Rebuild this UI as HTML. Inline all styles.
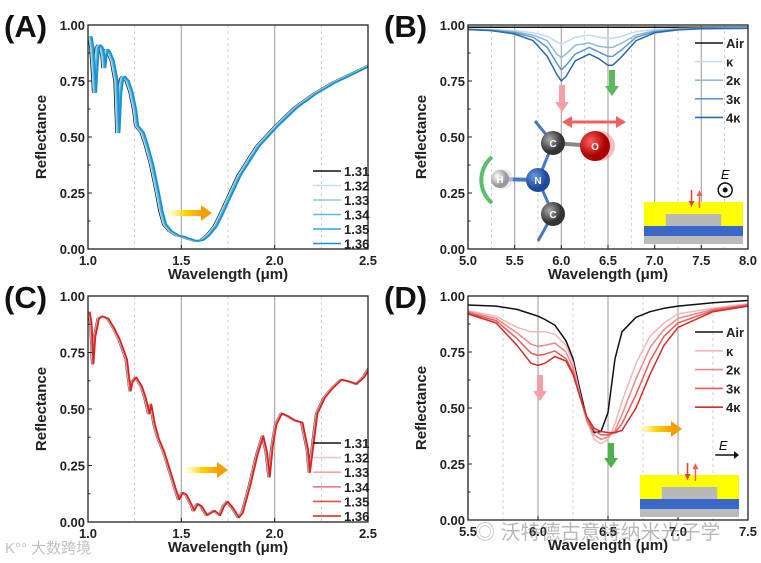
<!DOCTYPE html>
<html><head><meta charset="utf-8"><style>
html,body{margin:0;padding:0;background:#fff;}
svg{display:block;font-family:"Liberation Sans",Arial,sans-serif;}
.tk{font-size:13px;font-weight:bold;fill:#222;}
.ttl{font-size:15px;font-weight:bold;fill:#222;}
.pl{font-size:31px;font-weight:bold;fill:#111;}
.lg{font-size:13px;font-weight:bold;fill:#222;}
</style></head><body>
<svg id="fig" width="761" height="563" viewBox="0 0 761 563" xmlns="http://www.w3.org/2000/svg">
<defs>
<linearGradient id="ya" x1="0" x2="1"><stop offset="0" stop-color="#fff9a0" stop-opacity="0.3"/><stop offset="0.5" stop-color="#ffd400"/><stop offset="1" stop-color="#f5a000"/></linearGradient>
<radialGradient id="gC" cx="0.35" cy="0.35"><stop offset="0" stop-color="#aaa"/><stop offset="1" stop-color="#333"/></radialGradient>
<radialGradient id="gO" cx="0.35" cy="0.35"><stop offset="0" stop-color="#ff6060"/><stop offset="1" stop-color="#a00"/></radialGradient>
<radialGradient id="gN" cx="0.35" cy="0.35"><stop offset="0" stop-color="#6a9ae0"/><stop offset="1" stop-color="#1d4a9a"/></radialGradient>
<radialGradient id="gH" cx="0.35" cy="0.35"><stop offset="0" stop-color="#fff"/><stop offset="1" stop-color="#999"/></radialGradient>
</defs>
<g id="root"></g>
</svg>
<script>
// ---------- data ----------
const aX = [1.0,1.01,1.02,1.025,1.03,1.04,1.05,1.06,1.07,1.075,1.08,1.09,1.1,1.12,1.14,1.15,1.16,1.17,1.18,1.2,1.22,1.24,1.25,1.26,1.27,1.28,1.3,1.33,1.36,1.38,1.4,1.43,1.47,1.5,1.53,1.57,1.6,1.63,1.67,1.7,1.75,1.8,1.9,2.0,2.1,2.2,2.3,2.4,2.5];
const aY = [0.95,0.90,0.78,0.70,0.78,0.90,0.91,0.90,0.86,0.81,0.86,0.89,0.88,0.84,0.75,0.52,0.70,0.76,0.77,0.75,0.70,0.62,0.55,0.54,0.53,0.52,0.47,0.38,0.26,0.17,0.11,0.08,0.06,0.055,0.045,0.035,0.04,0.06,0.10,0.15,0.24,0.33,0.46,0.55,0.63,0.69,0.74,0.78,0.82];
const aShift = [0,0.004,0.008,0.012,0.016,0.02];
const aLabels = ["1.31","1.32","1.33","1.34","1.35","1.36"];

const cX = [1.0,1.01,1.02,1.03,1.05,1.07,1.1,1.13,1.16,1.2,1.22,1.23,1.25,1.28,1.3,1.32,1.33,1.35,1.37,1.4,1.43,1.46,1.48,1.5,1.52,1.55,1.56,1.58,1.6,1.63,1.65,1.67,1.7,1.72,1.74,1.77,1.8,1.82,1.86,1.9,1.93,1.95,1.965,1.98,2.0,2.03,2.06,2.1,2.14,2.17,2.18,2.2,2.22,2.26,2.3,2.35,2.4,2.43,2.47,2.5];
const cY = [0.93,0.88,0.70,0.82,0.90,0.91,0.90,0.86,0.81,0.72,0.58,0.62,0.64,0.60,0.55,0.48,0.52,0.43,0.37,0.31,0.23,0.15,0.10,0.13,0.12,0.07,0.05,0.08,0.07,0.03,0.04,0.05,0.03,0.07,0.09,0.06,0.02,0.04,0.16,0.30,0.38,0.31,0.20,0.33,0.43,0.48,0.47,0.45,0.44,0.32,0.22,0.35,0.48,0.55,0.59,0.63,0.62,0.61,0.64,0.68];
const cShift = [0,0.002,0.004,0.006,0.008,0.01];

const bX = [5.0,5.25,5.5,5.7,5.85,5.95,6.0,6.05,6.15,6.3,6.4,6.5,6.55,6.65,6.8,7.0,7.25,7.5,8.0];
const bAir = [0.99,0.99,0.99,0.99,0.99,0.99,0.99,0.99,0.99,0.99,0.99,0.99,0.99,0.99,0.99,0.99,0.99,0.99,0.99];
const bK1 = [0.982,0.98,0.975,0.965,0.95,0.925,0.915,0.925,0.945,0.955,0.945,0.94,0.94,0.95,0.97,0.98,0.984,0.986,0.988];
const bK2 = [0.981,0.978,0.97,0.955,0.93,0.87,0.855,0.87,0.91,0.92,0.905,0.90,0.90,0.92,0.955,0.975,0.982,0.985,0.987];
const bK3 = [0.98,0.976,0.965,0.945,0.90,0.83,0.80,0.82,0.87,0.90,0.88,0.86,0.86,0.89,0.945,0.97,0.98,0.984,0.986];
const bK4 = [0.98,0.975,0.96,0.93,0.86,0.78,0.75,0.77,0.84,0.87,0.85,0.82,0.82,0.86,0.93,0.965,0.978,0.983,0.985];

const dX = [5.5,5.7,5.85,5.95,6.0,6.05,6.12,6.2,6.25,6.3,6.35,6.4,6.45,6.5,6.55,6.6,6.7,6.8,6.9,7.0,7.25,7.5];
const dAir = [0.96,0.955,0.94,0.92,0.91,0.895,0.87,0.80,0.72,0.58,0.45,0.39,0.395,0.48,0.72,0.84,0.905,0.93,0.945,0.955,0.97,0.98];
const dK1 = [0.935,0.91,0.86,0.84,0.84,0.84,0.83,0.78,0.70,0.56,0.44,0.36,0.34,0.36,0.43,0.53,0.70,0.82,0.88,0.92,0.945,0.965];
const dK2 = [0.93,0.90,0.835,0.785,0.775,0.78,0.79,0.75,0.68,0.55,0.44,0.38,0.36,0.37,0.40,0.47,0.63,0.77,0.85,0.90,0.94,0.962];
const dK3 = [0.925,0.89,0.81,0.745,0.735,0.74,0.755,0.72,0.66,0.55,0.45,0.40,0.38,0.38,0.39,0.43,0.56,0.71,0.82,0.88,0.935,0.96];
const dK4 = [0.92,0.88,0.78,0.70,0.69,0.70,0.73,0.71,0.65,0.55,0.46,0.41,0.395,0.39,0.39,0.40,0.50,0.65,0.78,0.86,0.93,0.955];
const kLabels = ["Air","κ","2κ","3κ","4κ"];
const yTicks = ["0.00","0.25","0.50","0.75","1.00"];
const abTicks = ["1.0","1.5","2.0","2.5"];
const bTicks = ["5.0","5.5","6.0","6.5","7.0","7.5","8.0"];
const dTicks = ["5.5","6.0","6.5","7.0","7.5"];

// ---------- drawing ----------
const NS="http://www.w3.org/2000/svg";
const root=document.getElementById('root');
function mk(tag,attrs,parent,text){const e=document.createElementNS(NS,tag);for(const k in attrs)e.setAttribute(k,attrs[k]);if(text!==undefined)e.textContent=text;(parent||root).appendChild(e);return e;}

function panel(o){
  const g=mk('g',{});
  
  
  const sx=v=>o.x0+(v-o.xmin)/(o.xmax-o.xmin)*(o.x1-o.x0);
  const sy=v=>o.y0-(v)*(o.y0-o.y1);
  const step=o.minor;
  for(let v=o.xmin+step;v<o.xmax-1e-6;v+=step){
    const major=Math.abs(Math.round(v/o.major)*o.major-v)<1e-6;
    const ln=mk('line',{x1:sx(v),x2:sx(v),y1:o.y1,y2:o.y0,stroke:major?'#aaa':'#c8c8c8','stroke-width':major?1.2:0.8,'stroke-dasharray':major?'':'3,3'},g);
    
    
  }
  o.series.forEach((s,i)=>{
    let d='';
    s.x.forEach((xv,j)=>{d+=(j?'L':'M')+sx(xv).toFixed(1)+','+sy(s.y[j]).toFixed(1);});
    const p=mk('path',{d:d,fill:'none',stroke:s.c,'stroke-width':1.5,'stroke-linejoin':'round','clip-path':'url(#clip'+o.id+')'},g);
    
    
  });
  const fr=mk('rect',{x:o.x0,y:o.y1,width:o.x1-o.x0,height:o.y0-o.y1,fill:'none',stroke:'#222','stroke-width':1.3},g);
  
  
  yTicks.forEach((t,i)=>{
    const v=i*0.25;
    mk('line',{x1:o.x0,x2:o.x0+4,y1:sy(v),y2:sy(v),stroke:'#222'},g);
    if(i<4) mk('line',{x1:o.x0,x2:o.x0+2.5,y1:sy(v+0.125),y2:sy(v+0.125),stroke:'#222'},g);
    const tx=mk('text',{x:o.x0-3,y:sy(v)+5,'text-anchor':'end',class:'tk'},g,t);
    
    
  });
  o.xt.forEach((t,i)=>{
    const v=parseFloat(t);
    mk('line',{x1:sx(v),x2:sx(v),y1:o.y0,y2:o.y0-4,stroke:'#222'},g);
    const tx=mk('text',{x:sx(v),y:o.y0+16,'text-anchor':'middle',class:'tk'},g,t);
    
    
  });
  const xt=mk('text',{x:(o.x0+o.x1)/2,y:o.y0+30,'text-anchor':'middle',class:'ttl'},g,'Wavelength (μm)');
  
  
  const yt=mk('text',{x:0,y:0,'text-anchor':'middle',class:'ttl',transform:'translate('+(o.x0-42)+','+((o.y0+o.y1)/2)+') rotate(-90)'},g,'Reflectance');
  
  
  const pl=mk('text',{x:o.x0-84,y:o.y1+12,class:'pl'},g,'('+o.id+')');
  
  
  o.series.forEach((s,i)=>{
    const ly=o.ly+i*o.lstep;
    const lg=mk('g',{},g);
    
    
    mk('line',{x1:o.lx,x2:o.lx+28,y1:ly,y2:ly,stroke:s.c,'stroke-width':1.6},lg);
    mk('text',{x:o.lx+31,y:ly+5,class:'lg'},lg,s.label);
  });
  return g;
}
const defs=document.querySelector('defs');
function clip(id,x,y,w,h){const c=mk('clipPath',{id:'clip'+id},defs);mk('rect',{x:x,y:y,width:w,height:h},c);}
clip('A',88,25,280,224);clip('B',468,25,280,224);clip('C',88,296,280,226);clip('D',468,296,280,224);

const blues=['#111','#c0e2ee','#8fcde6','#5cbae0','#2ea6dc','#1a8fcf'];
const reds=['#111','#f3c4c4','#eea4a4','#e87c7c','#e44c4c','#d62222'];
panel({id:'A',x0:88,x1:368,y0:249,y1:25,xmin:1,xmax:2.5,minor:0.25,major:0.5,xt:abTicks,lx:313,ly:171,lstep:14.5,
  series:aShift.map((s,i)=>({name:'a-'+aLabels[i],label:aLabels[i],c:blues[i],x:aX.map(v=>v+s),y:aY}))});
panel({id:'C',x0:88,x1:368,y0:522,y1:296,xmin:1,xmax:2.5,minor:0.25,major:0.5,xt:abTicks,lx:313,ly:443,lstep:14.6,
  series:cShift.map((s,i)=>({name:'c-'+aLabels[i],label:aLabels[i],c:reds[i],x:cX.map(v=>v+s),y:cY}))});
const bSer=[bAir,bK1,bK2,bK3,bK4], bCol=['#111','#c4dcec','#8fbcdc','#5a99c8','#2a6aaa'];
panel({id:'B',x0:468,x1:748,y0:249,y1:25,xmin:5,xmax:8,minor:0.25,major:0.5,xt:bTicks,lx:695,ly:43,lstep:18.6,
  series:bSer.map((y,i)=>({name:'b-'+i,label:kLabels[i],c:bCol[i],x:bX,y:y}))});
const dSer=[dAir,dK1,dK2,dK3,dK4], dCol=['#111','#f4b8b8','#ee8888','#e65a5a','#d82a2a'];
panel({id:'D',x0:468,x1:748,y0:520,y1:296,xmin:5.5,xmax:7.5,minor:0.25,major:0.5,xt:dTicks,lx:695,ly:332,lstep:18.8,
  series:dSer.map((y,i)=>({name:'d-'+i,label:kLabels[i],c:dCol[i],x:dX,y:y}))});
</script>
<script>
(function(){
const NS="http://www.w3.org/2000/svg";const svg=document.getElementById('fig');
function m(tag,a,p,t){const e=document.createElementNS(NS,tag);for(const k in a)e.setAttribute(k,a[k]);if(t!==undefined)e.textContent=t;(p||svg).appendChild(e);return e;}
function arrowH(x,y,len,name){const g=m('g',{});
 m('rect',{x:x,y:y-3,width:len-10,height:6,fill:'url(#ya)'},g);m('polygon',{points:(x+len-11)+','+(y-8)+' '+(x+len)+','+y+' '+(x+len-11)+','+(y+8),fill:'#f5a000'},g);}
arrowH(168,213,44,'shift-arrow-a');arrowH(185,470,43,'shift-arrow-c');arrowH(640,429,42,'shift-arrow-d');
function arrowV(x,y,len,col,name){const g=m('g',{});
 m('rect',{x:x-3,y:y,width:6,height:len-9,fill:col},g);m('polygon',{points:(x-7)+','+(y+len-10)+' '+(x+7)+','+(y+len-10)+' '+x+','+(y+len),fill:col},g);}
arrowV(562,85,27,'#f5a0a8','down-arrow-b1');arrowV(612,70,26,'#5cb85c','down-arrow-b2');
arrowV(540,375,26,'#f5a0a8','down-arrow-d1');arrowV(611,443,25,'#4caf50','down-arrow-d2');
const mol=m('g',{});
m('line',{x1:535,y1:121,x2:553,y2:143,stroke:'#4a78c0','stroke-width':3},mol);
m('line',{x1:553,y1:143,x2:538,y2:180,stroke:'#4a78c0','stroke-width':3},mol);
m('line',{x1:538,y1:180,x2:553,y2:214,stroke:'#4a78c0','stroke-width':3},mol);
m('line',{x1:553,y1:214,x2:538,y2:241,stroke:'#4a78c0','stroke-width':3},mol);
m('line',{x1:500,y1:179,x2:538,y2:180,stroke:'#4a78c0','stroke-width':4},mol);
m('line',{x1:553,y1:143,x2:595,y2:146,stroke:'#888','stroke-width':4},mol);
m('path',{d:'M572,122 L616,122',stroke:'#f06060','stroke-width':3},mol);
m('polygon',{points:'572,116 562,122 572,128',fill:'#f06060'},mol);m('polygon',{points:'616,116 626,122 616,128',fill:'#f06060'},mol);
m('circle',{cx:600,cy:146,r:15,fill:'#f08080',opacity:0.5},mol);
m('circle',{cx:595,cy:146,r:15,fill:'url(#gO)'},mol);
m('circle',{cx:553,cy:143,r:12,fill:'url(#gC)'},mol);
m('circle',{cx:538,cy:180,r:12,fill:'url(#gN)'},mol);
m('circle',{cx:503,cy:179,r:10,fill:'#ddd',opacity:0.6},mol);
m('circle',{cx:500,cy:179,r:9,fill:'url(#gH)'},mol);
m('circle',{cx:553,cy:214,r:12,fill:'url(#gC)'},mol);
m('path',{d:'M492,157 A30,30 0 0 0 492,203',fill:'none',stroke:'#5cbf6a','stroke-width':4},mol);
[['C',553,147],['O',595,150],['N',538,184],['H',500,183],['C',553,218]].forEach(a=>m('text',{x:a[1],y:a[2],'text-anchor':'middle','font-size':10,'font-weight':'bold',fill:'#fff'},mol,a[0]));
function inset(x,y,w,name,eTxt,dot){const g=m('g',{});
 m('rect',{x:x,y:y,width:w,height:24,fill:'#ffff00'},g);
 m('rect',{x:x+w*0.22,y:y+12,width:w*0.56,height:12,fill:'#b8b8b8'},g);
 m('rect',{x:x,y:y+24,width:w,height:10,fill:'#3a68c8'},g);
 m('rect',{x:x,y:y+34,width:w,height:8,fill:'#bbb'},g);
 const ax=x+w*0.48, bx=x+w*0.56;
 m('line',{x1:ax,y1:y-12,x2:ax,y2:y,stroke:'#e04040','stroke-width':1.5},g);
 m('polygon',{points:(ax-3)+','+(y-1)+' '+(ax+3)+','+(y-1)+' '+ax+','+(y+5),fill:'#e04040'},g);
 m('line',{x1:bx,y1:y+6,x2:bx,y2:y-7,stroke:'#f06060','stroke-width':1.5},g);
 m('polygon',{points:(bx-3)+','+(y-6)+' '+(bx+3)+','+(y-6)+' '+bx+','+(y-12),fill:'#f06060'},g);
 if(dot){m('circle',{cx:x+w*0.82,cy:y-12,r:7,fill:'none',stroke:'#111','stroke-width':1.5},g);m('circle',{cx:x+w*0.82,cy:y-12,r:2.5,fill:'#111'},g);
  m('text',{x:x+w*0.82,y:y-23,'text-anchor':'middle','font-size':13,'font-style':'italic',fill:'#111'},g,eTxt);}
 else{m('line',{x1:x+w*0.76,y1:y-20,x2:x+w*0.96,y2:y-20,stroke:'#111','stroke-width':1.5},g);m('polygon',{points:(x+w*0.95)+','+(y-24)+' '+(x+w)+','+(y-20)+' '+(x+w*0.95)+','+(y-16),fill:'#111'},g);
  m('text',{x:x+w*0.84,y:y-25,'text-anchor':'middle','font-size':13,'font-style':'italic',fill:'#111'},g,eTxt);}
}
inset(644,202,99,'inset-structure-b','E',true);
inset(640,475,99,'inset-structure-d','E',false);
const w1=m('text',{x:475,y:539,'font-size':20,fill:'#666',opacity:0.45,'font-family':'"Liberation Sans","Noto Sans CJK SC",sans-serif'},svg,'◎ 沃特德古意特纳米光子学');

const w2=m('text',{x:5,y:553,'font-size':15,fill:'#999',opacity:0.6,'font-family':'"Liberation Sans","Noto Sans CJK SC",sans-serif'},svg,'K°° 大数跨境');

})();
</script>
</body></html>
